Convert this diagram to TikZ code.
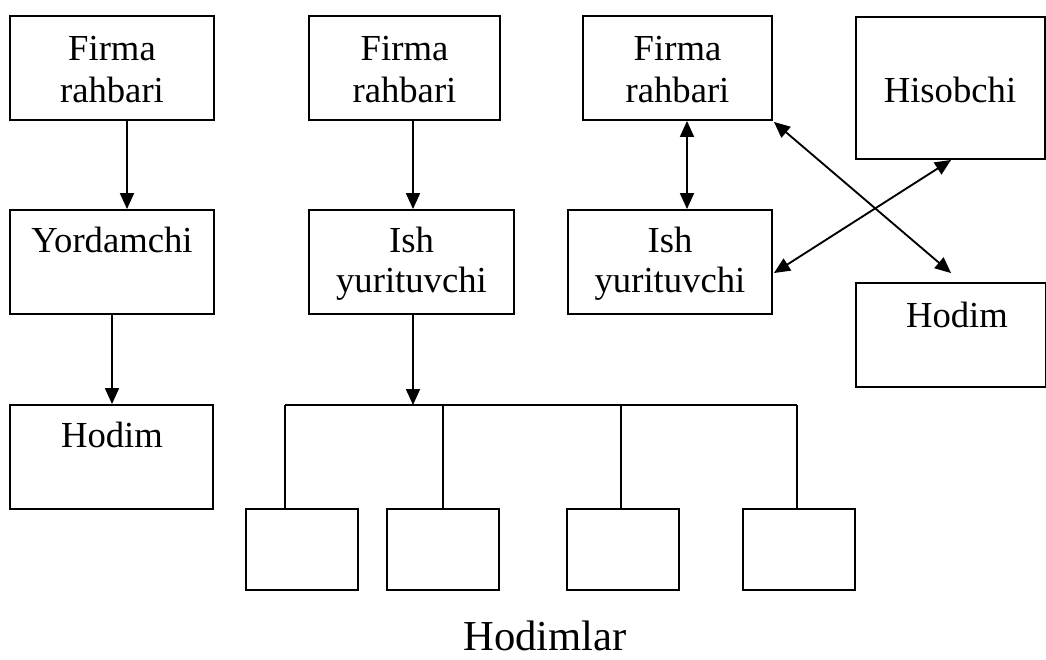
\documentclass[tikz,border=0pt]{standalone}
\usepackage{fontspec}
\setmainfont{Liberation Serif}
\usetikzlibrary{arrows.meta,fit,calc}
\tikzset{
  box/.style={draw, line width=1.4pt, inner sep=0pt},
  lbl/.style={anchor=base, inner sep=0pt, font=\fontsize{27.5}{31}\selectfont},
  big/.style={anchor=base, inner sep=0pt, font=\fontsize{32}{36}\selectfont},
  arr/.style={line width=1.4pt, -{Triangle[length=12pt,width=10.5pt]}},
  darr/.style={line width=1.4pt, {Triangle[length=12pt,width=10.5pt]}-{Triangle[length=12pt,width=10.5pt]}},
  ln/.style={line width=1.3pt}
}
\begin{document}
\begin{tikzpicture}[x=0.75pt,y=-0.75pt]
\useasboundingbox (0,0) rectangle (1046,660);
% boxes
\node[box, fit={(10,16) (214,120)}] (f1) {};
\node[box, fit={(10,210) (214,314)}] (yd) {};
\node[box, fit={(10,405) (213,509)}] (h1) {};
\node[box, fit={(309,16) (500,120)}] (f2) {};
\node[box, fit={(309,210) (514,314)}] (i2) {};
\node[box, fit={(583,16) (772,120)}] (f3) {};
\node[box, fit={(568,210) (772,314)}] (i3) {};
\node[box, fit={(856,17) (1045,159)}] (hs) {};
\node[box, fit={(856,283) (1046,387)}] (h4) {};
\node[box, fit={(246,509) (358,590)}] (s1) {};
\node[box, fit={(387,509) (499,590)}] (s2) {};
\node[box, fit={(567,509) (679,590)}] (s3) {};
\node[box, fit={(743,509) (855,590)}] (s4) {};
% labels
\node[lbl] (t1a) at (112,61) {Firma};
\node[lbl] (t1b) at (112,103) {rahbari};
\node[lbl] (t2) at (112,252) {Yordamchi};
\node[lbl] (t3) at (112,447) {Hodim};
\node[lbl] (t4a) at (404.5,61) {Firma};
\node[lbl] (t4b) at (404.5,103) {rahbari};
\node[lbl] (t5a) at (411.5,252) {Ish};
\node[lbl] (t5b) at (411.5,292) {yurituvchi};
\node[lbl] (t6a) at (677.5,61) {Firma};
\node[lbl] (t6b) at (677.5,103) {rahbari};
\node[lbl] (t7a) at (670,252) {Ish};
\node[lbl] (t7b) at (670,292) {yurituvchi};
\node[lbl] (t8) at (950,103) {Hisobchi};
\node[lbl] (t9) at (957,327) {Hodim};
\node[big] (t10) at (545,650) {Hodimlar};
% connector coordinates
\coordinate (ax1) at (127,0);
\coordinate (ax2) at (112,0);
\coordinate (ax3) at (413,0);
\coordinate (ax4) at (687,0);
\coordinate (b1) at (285,405);
\coordinate (b2) at (443,405);
\coordinate (b3) at (621,405);
\coordinate (b4) at (797,405);
% column 1
\draw[arr] (f1.south -| ax1) -- (yd.north -| ax1);
\draw[arr] (yd.south -| ax2) -- (h1.north -| ax2);
% column 2
\draw[arr] (f2.south -| ax3) -- (i2.north -| ax3);
\draw[arr] (i2.south -| ax3) -- (ax3 |- b1);
\draw[ln] (b1) -- (b4);
\draw[ln] (b1) -- (s1.north -| b1);
\draw[ln] (b2) -- (s2.north -| b2);
\draw[ln] (b3) -- (s3.north -| b3);
\draw[ln] (b4) -- (s4.north -| b4);
% column 3
\draw[darr] (f3.south -| ax4) -- (i3.north -| ax4);
\draw[darr] ($(f3.south east)+(1,1)$) -- ($(h4.north west)+(96,-9)$);
\draw[darr] ($(i3.north east)+(1,64)$) -- ($(hs.south west)+(96,0)$);
\end{tikzpicture}
\end{document}
